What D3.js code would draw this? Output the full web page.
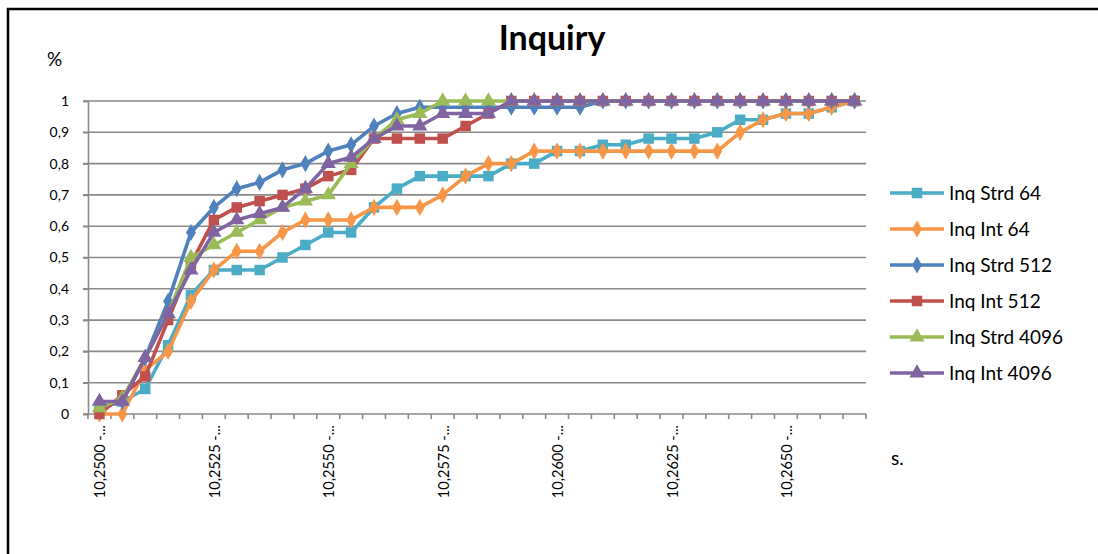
<!DOCTYPE html>
<html>
<head>
<meta charset="utf-8">
<script src="https://cdn.jsdelivr.net/npm/d3@7"></script>
<style>
  html, body { margin: 0; padding: 0; background: #fff; }
  svg { display: block; }
  text { font-family: Lato, "Open Sans", sans-serif; fill: #000; }
</style>
</head>
<body>
<svg id="chart" width="1098" height="554"></svg>
<script>
// ---- data ----
const categories = ["10,2500","10,2505","10,2510","10,2515","10,2520","10,2525","10,2530","10,2535","10,2540","10,2545",
  "10,2550","10,2555","10,2560","10,2565","10,2570","10,2575","10,2580","10,2585","10,2590","10,2595",
  "10,2600","10,2605","10,2610","10,2615","10,2620","10,2625","10,2630","10,2635","10,2640","10,2645",
  "10,2650","10,2655","10,2660","10,2665"];
const labelEvery = 5;
const yTicks = [0, 0.1, 0.2, 0.3, 0.4, 0.5, 0.6, 0.7, 0.8, 0.9, 1];

const seriesNames = ["Inq Strd 64", "Inq Int 64", "Inq Strd 512", "Inq Int 512", "Inq Strd 4096", "Inq Int 4096"];
const inqStrd64 = [0.02,0.04,0.08,0.22,0.38,0.46,0.46,0.46,0.50,0.54,0.58,0.58,0.66,0.72,0.76,0.76,0.76,0.76,0.80,0.80,0.84,0.84,0.86,0.86,0.88,0.88,0.88,0.90,0.94,0.94,0.96,0.96,0.98,1.00];
const inqInt64 = [0,0,0.14,0.20,0.36,0.46,0.52,0.52,0.58,0.62,0.62,0.62,0.66,0.66,0.66,0.70,0.76,0.80,0.80,0.84,0.84,0.84,0.84,0.84,0.84,0.84,0.84,0.84,0.90,0.94,0.96,0.96,0.98,1.00];
const inqStrd512 = [0.02,0.04,0.18,0.36,0.58,0.66,0.72,0.74,0.78,0.80,0.84,0.86,0.92,0.96,0.98,0.98,0.98,0.98,0.98,0.98,0.98,0.98,1,1,1,1,1,1,1,1,1,1,1,1];
const inqInt512 = [0,0.06,0.12,0.30,0.48,0.62,0.66,0.68,0.70,0.72,0.76,0.78,0.88,0.88,0.88,0.88,0.92,0.96,1,1,1,1,1,1,1,1,1,1,1,1,1,1,1,1];
const inqStrd4096 = [0.02,0.05,0.18,0.32,0.50,0.54,0.58,0.62,0.66,0.68,0.70,0.80,0.88,0.94,0.96,1,1,1,1,1,1,1,1,1,1,1,1,1,1,1,1,1,1,1];
const inqInt4096 = [0.04,0.04,0.18,0.32,0.46,0.58,0.62,0.64,0.66,0.72,0.80,0.82,0.88,0.92,0.92,0.96,0.96,0.96,1,1,1,1,1,1,1,1,1,1,1,1,1,1,1,1];
const seriesValues = [inqStrd64, inqInt64, inqStrd512, inqInt512, inqStrd4096, inqInt4096];
const seriesColors = ["#4BACC6", "#F79646", "#4F81BD", "#C0504D", "#9BBB59", "#8064A2"];
const seriesMarkers = ["square", "diamond", "diamond", "square", "triangle", "triangle"];

// ---- layout ----
const svg = d3.select("#chart");
const plot = { left: 88, right: 866, top: 101, bottom: 414 };
const gridColor = "#8a8a8a";

svg.append("rect").attr("x", 0).attr("y", 0).attr("width", 1098).attr("height", 554).attr("fill", "#fff");
svg.append("path").attr("d", "M8,560 L8,9 L1100,9")
  .attr("fill", "none").attr("stroke", "#000").attr("stroke-width", 2.5);

const x = d3.scalePoint().domain(categories).range([plot.left, plot.right]).padding(0.5);
const step = x.step();
const y = d3.scaleLinear().domain([0, 1]).range([plot.bottom, plot.top]);

const fmt = d => d === 0 ? "0" : d === 1 ? "1" : d.toFixed(1).replace(".", ",");

svg.append("g").selectAll("line").data(yTicks.filter(d => d > 0)).join("line")
  .attr("x1", plot.left - 5).attr("x2", plot.right)
  .attr("y1", d => y(d)).attr("y2", d => y(d))
  .attr("stroke", gridColor).attr("stroke-width", 1.6);

const yAxis = svg.append("g").attr("transform", `translate(${plot.left},0)`)
  .call(d3.axisLeft(y).tickValues(yTicks).tickFormat(fmt).tickSize(5).tickPadding(14));
yAxis.select(".domain").attr("stroke", gridColor).attr("stroke-width", 1.6);
yAxis.selectAll(".tick line").attr("stroke", gridColor).attr("stroke-width", 1.6);
yAxis.selectAll(".tick text").attr("font-size", 14).attr("font-family", "Lato, 'Open Sans', sans-serif").attr("fill", "#000");

const boundaries = categories.map(c => x(c) - step / 2).concat([x(categories[categories.length - 1]) + step / 2]);
const xg = svg.append("g");
xg.append("line").attr("x1", plot.left - 5).attr("x2", plot.right).attr("y1", plot.bottom).attr("y2", plot.bottom)
  .attr("stroke", gridColor).attr("stroke-width", 1.6);
xg.selectAll("line.tk").data(boundaries).join("line").attr("class", "tk")
  .attr("x1", d => d).attr("x2", d => d).attr("y1", plot.bottom).attr("y2", plot.bottom + 5)
  .attr("stroke", gridColor).attr("stroke-width", 1.6);
xg.selectAll("text").data(categories.filter((c, i) => i % labelEvery === 0)).join("text")
  .attr("transform", d => `translate(${x(d) + 6},${plot.bottom + 11}) rotate(-90)`)
  .attr("text-anchor", "end").attr("font-size", 14.5)
  .text(d => d + " -...");

const line = d3.line().x((d, i) => x(categories[i])).y(d => y(d));
const symbolFor = m => m === "square" ? d3.symbolSquare : m === "diamond" ? d3.symbolDiamond : d3.symbolTriangle;
const sizeFor = m => m === "square" ? 110 : m === "diamond" ? 85 : 100;

seriesValues.forEach((vals, si) => {
  const g = svg.append("g");
  g.append("path").datum(vals).attr("d", line).attr("fill", "none")
    .attr("stroke", seriesColors[si]).attr("stroke-width", 3.6).attr("stroke-linejoin", "round");
  g.selectAll("path.m").data(vals).join("path").attr("class", "m")
    .attr("transform", (d, i) => `translate(${x(categories[i])},${y(d)})`)
    .attr("d", d3.symbol().type(symbolFor(seriesMarkers[si])).size(sizeFor(seriesMarkers[si])))
    .attr("fill", seriesColors[si]);
});

const legend = svg.append("g");
seriesNames.forEach((name, si) => {
  const ly = 193 + si * 36;
  const lg = legend.append("g").attr("transform", `translate(0,${ly})`);
  lg.append("line").attr("x1", 890).attr("x2", 944).attr("y1", 0).attr("y2", 0)
    .attr("stroke", seriesColors[si]).attr("stroke-width", 3.6);
  lg.append("path").attr("transform", "translate(917,0)")
    .attr("d", d3.symbol().type(symbolFor(seriesMarkers[si])).size(sizeFor(seriesMarkers[si])))
    .attr("fill", seriesColors[si]);
  lg.append("text").attr("x", 949).attr("y", 0).attr("dy", "0.35em").attr("font-size", 19).text(name);
});

svg.append("text").attr("x", 552).attr("y", 50).attr("text-anchor", "middle")
  .attr("font-size", 34).attr("font-weight", "bold").text("Inquiry");
svg.append("text").attr("x", 47).attr("y", 66).attr("font-size", 19).text("%");
svg.append("text").attr("x", 891).attr("y", 465).attr("font-size", 19).text("s.");
</script>
</body>
</html>
